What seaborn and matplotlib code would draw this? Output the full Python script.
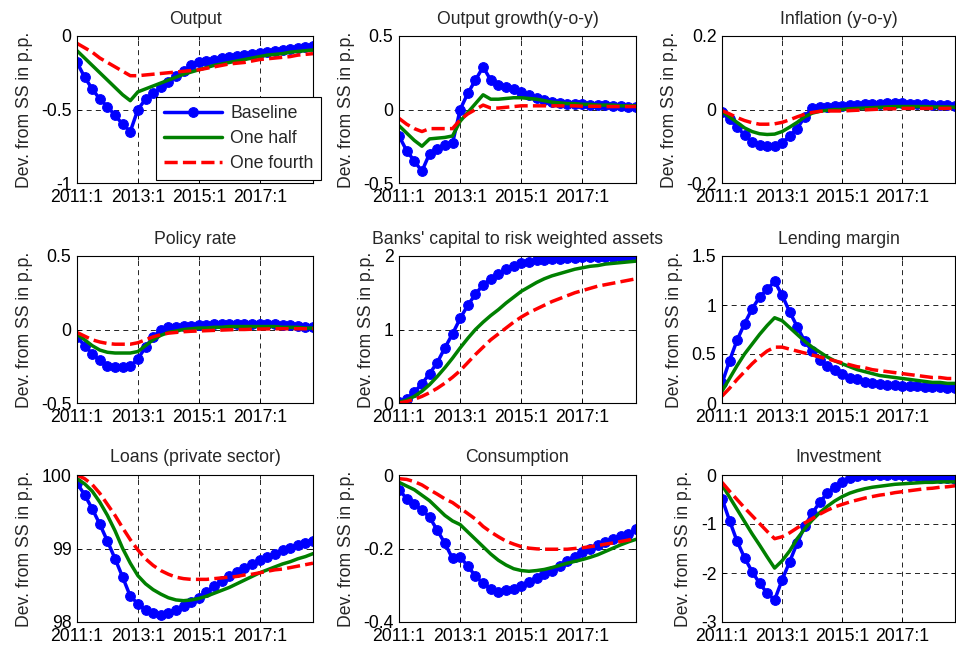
import numpy as np
import pandas as pd
import matplotlib
matplotlib.use("Agg")
import matplotlib.pyplot as plt
import seaborn as sns

quarters = list(range(32))
xtick_pos = [0, 8, 16, 24]
xtick_labels = ["2011:1", "2013:1", "2015:1", "2017:1"]
series_names = ["Baseline", "One half", "One fourth"]

titles = ["Output", "Output growth(y-o-y)", "Inflation (y-o-y)",
          "Policy rate", "Banks' capital to risk weighted assets", "Lending margin",
          "Loans (private sector)", "Consumption", "Investment"]

output_base = [-0.18, -0.28, -0.36, -0.43, -0.48, -0.54, -0.60, -0.65, -0.50, -0.43, -0.39, -0.35, -0.31, -0.27, -0.24, -0.20,
               -0.18, -0.17, -0.16, -0.15, -0.14, -0.135, -0.13, -0.12, -0.115, -0.11, -0.10, -0.095, -0.09, -0.08, -0.075, -0.07]
output_half = [-0.10, -0.15, -0.20, -0.25, -0.30, -0.35, -0.40, -0.44, -0.38, -0.36, -0.34, -0.32, -0.30, -0.28, -0.26, -0.245,
               -0.23, -0.215, -0.20, -0.19, -0.18, -0.17, -0.16, -0.15, -0.14, -0.13, -0.125, -0.12, -0.11, -0.105, -0.10, -0.095]
output_fourth = [-0.05, -0.08, -0.11, -0.15, -0.18, -0.21, -0.24, -0.27, -0.27, -0.265, -0.26, -0.255, -0.25, -0.245, -0.24, -0.235,
                 -0.23, -0.22, -0.21, -0.20, -0.19, -0.185, -0.18, -0.17, -0.16, -0.155, -0.15, -0.145, -0.14, -0.13, -0.125, -0.12]

growth_base = [-0.18, -0.28, -0.35, -0.42, -0.30, -0.27, -0.24, -0.23, 0.0, 0.11, 0.20, 0.29, 0.20, 0.17, 0.155, 0.14,
               0.12, 0.10, 0.08, 0.065, 0.05, 0.045, 0.04, 0.035, 0.035, 0.03, 0.03, 0.03, 0.025, 0.025, 0.02, 0.02]
growth_half = [-0.11, -0.16, -0.21, -0.25, -0.20, -0.195, -0.19, -0.18, -0.08, -0.02, 0.04, 0.10, 0.07, 0.07, 0.075, 0.08,
               0.08, 0.075, 0.07, 0.06, 0.05, 0.045, 0.04, 0.04, 0.035, 0.035, 0.03, 0.03, 0.03, 0.025, 0.025, 0.025]
growth_fourth = [-0.06, -0.10, -0.13, -0.15, -0.13, -0.13, -0.13, -0.13, -0.07, -0.03, 0.0, 0.03, 0.01, 0.01, 0.015, 0.02,
                 0.025, 0.025, 0.025, 0.025, 0.025, 0.025, 0.025, 0.025, 0.022, 0.022, 0.022, 0.02, 0.02, 0.02, 0.02, 0.02]

infl_base = [-0.008, -0.027, -0.047, -0.07, -0.088, -0.097, -0.10, -0.10, -0.09, -0.073, -0.052, -0.02, 0.003, 0.007, 0.008, 0.01,
             0.01, 0.012, 0.013, 0.014, 0.015, 0.016, 0.017, 0.017, 0.017, 0.016, 0.015, 0.014, 0.013, 0.012, 0.011, 0.01]
infl_half = [-0.005, -0.02, -0.035, -0.05, -0.06, -0.066, -0.068, -0.067, -0.06, -0.048, -0.035, -0.02, -0.01, -0.005, -0.002, 0.0,
             0.0, 0.002, 0.003, 0.004, 0.005, 0.006, 0.007, 0.008, 0.008, 0.008, 0.008, 0.008, 0.007, 0.007, 0.007, 0.006]
infl_fourth = [-0.003, -0.012, -0.022, -0.03, -0.036, -0.04, -0.04, -0.039, -0.035, -0.028, -0.02, -0.013, -0.008, -0.005, -0.004, -0.004,
               -0.004, -0.003, -0.002, -0.001, 0.0, 0.001, 0.002, 0.002, 0.003, 0.003, 0.003, 0.003, 0.003, 0.003, 0.003, 0.003]

policy_base = [-0.05, -0.11, -0.165, -0.21, -0.245, -0.255, -0.255, -0.25, -0.20, -0.12, -0.05, -0.005, 0.015, 0.02, 0.025, 0.025,
               0.03, 0.03, 0.035, 0.035, 0.04, 0.04, 0.04, 0.04, 0.04, 0.035, 0.035, 0.03, 0.03, 0.025, 0.02, 0.02]
policy_half = [-0.03, -0.07, -0.11, -0.14, -0.155, -0.16, -0.16, -0.16, -0.15, -0.11, -0.07, -0.04, -0.02, -0.01, 0.0, 0.005,
               0.01, 0.01, 0.015, 0.015, 0.02, 0.02, 0.02, 0.02, 0.02, 0.02, 0.02, 0.015, 0.015, 0.015, 0.01, 0.01]
policy_fourth = [-0.02, -0.045, -0.07, -0.085, -0.095, -0.10, -0.10, -0.10, -0.09, -0.07, -0.05, -0.035, -0.025, -0.02, -0.015, -0.012,
                 -0.01, -0.008, -0.006, -0.004, -0.002, 0.0, 0.0, 0.002, 0.003, 0.004, 0.005, 0.005, 0.005, 0.005, 0.005, 0.005]

capital_base = [0.01, 0.05, 0.15, 0.26, 0.40, 0.55, 0.75, 0.94, 1.15, 1.33, 1.48, 1.61, 1.69, 1.76, 1.82, 1.86,
                1.90, 1.92, 1.94, 1.95, 1.96, 1.965, 1.97, 1.975, 1.98, 1.98, 1.985, 1.985, 1.99, 1.99, 1.99, 1.995]
capital_half = [0.01, 0.04, 0.09, 0.16, 0.25, 0.36, 0.48, 0.61, 0.75, 0.88, 1.0, 1.10, 1.19, 1.27, 1.36, 1.44,
                1.52, 1.58, 1.64, 1.69, 1.73, 1.76, 1.79, 1.82, 1.84, 1.86, 1.87, 1.89, 1.90, 1.91, 1.92, 1.93]
capital_fourth = [0.0, 0.02, 0.05, 0.09, 0.14, 0.20, 0.27, 0.35, 0.44, 0.55, 0.66, 0.76, 0.86, 0.94, 1.02, 1.10,
                  1.17, 1.23, 1.28, 1.33, 1.38, 1.42, 1.46, 1.50, 1.53, 1.56, 1.59, 1.61, 1.63, 1.65, 1.67, 1.69]

margin_base = [0.20, 0.43, 0.64, 0.81, 0.96, 1.08, 1.16, 1.24, 1.10, 0.93, 0.78, 0.63, 0.53, 0.44, 0.38, 0.34,
               0.30, 0.26, 0.24, 0.21, 0.20, 0.19, 0.18, 0.18, 0.17, 0.17, 0.17, 0.16, 0.16, 0.16, 0.15, 0.15]
margin_half = [0.12, 0.25, 0.38, 0.50, 0.60, 0.70, 0.79, 0.87, 0.84, 0.77, 0.70, 0.63, 0.57, 0.52, 0.47, 0.43,
               0.40, 0.37, 0.34, 0.32, 0.30, 0.28, 0.27, 0.26, 0.25, 0.24, 0.23, 0.22, 0.21, 0.21, 0.20, 0.20]
margin_fourth = [0.07, 0.15, 0.24, 0.32, 0.40, 0.47, 0.53, 0.57, 0.57, 0.55, 0.53, 0.51, 0.49, 0.47, 0.45, 0.43,
                 0.41, 0.39, 0.37, 0.36, 0.34, 0.33, 0.32, 0.31, 0.30, 0.29, 0.28, 0.27, 0.26, 0.26, 0.25, 0.25]

loans_base = [99.89, 99.73, 99.54, 99.33, 99.10, 98.86, 98.61, 98.35, 98.25, 98.16, 98.12, 98.10, 98.12, 98.16, 98.22, 98.27,
              98.33, 98.41, 98.49, 98.56, 98.63, 98.68, 98.74, 98.79, 98.84, 98.89, 98.93, 98.98, 99.01, 99.05, 99.07, 99.10]
loans_half = [99.95, 99.88, 99.78, 99.63, 99.45, 99.24, 99.00, 98.80, 98.63, 98.52, 98.44, 98.38, 98.33, 98.30, 98.29, 98.30,
              98.32, 98.35, 98.39, 98.43, 98.47, 98.52, 98.57, 98.62, 98.67, 98.71, 98.75, 98.79, 98.82, 98.86, 98.89, 98.93]
loans_fourth = [100.0, 99.95, 99.87, 99.75, 99.60, 99.45, 99.28, 99.12, 98.98, 98.86, 98.77, 98.70, 98.65, 98.61, 98.59, 98.58,
                98.58, 98.58, 98.59, 98.60, 98.61, 98.62, 98.64, 98.65, 98.67, 98.69, 98.71, 98.72, 98.74, 98.76, 98.78, 98.80]

cons_base = [-0.04, -0.064, -0.08, -0.095, -0.115, -0.15, -0.186, -0.227, -0.223, -0.248, -0.275, -0.295, -0.31, -0.318, -0.314, -0.31,
             -0.303, -0.29, -0.28, -0.27, -0.26, -0.247, -0.235, -0.223, -0.21, -0.20, -0.19, -0.182, -0.175, -0.167, -0.16, -0.148]
cons_half = [-0.02, -0.03, -0.04, -0.055, -0.07, -0.09, -0.11, -0.125, -0.135, -0.155, -0.175, -0.195, -0.215, -0.232, -0.245, -0.255,
             -0.26, -0.262, -0.26, -0.257, -0.252, -0.246, -0.24, -0.235, -0.23, -0.224, -0.217, -0.208, -0.199, -0.19, -0.182, -0.175]
cons_fourth = [-0.01, -0.012, -0.018, -0.027, -0.04, -0.052, -0.065, -0.075, -0.09, -0.105, -0.12, -0.14, -0.155, -0.168, -0.18, -0.188,
               -0.195, -0.199, -0.201, -0.202, -0.202, -0.202, -0.202, -0.20, -0.198, -0.195, -0.192, -0.188, -0.185, -0.181, -0.177, -0.172]

inv_base = [-0.48, -0.93, -1.35, -1.69, -1.97, -2.21, -2.41, -2.55, -2.14, -1.77, -1.39, -1.05, -0.78, -0.56, -0.37, -0.24,
            -0.14, -0.07, -0.02, 0.0, 0.01, 0.01, 0.0, 0.0, -0.01, -0.02, -0.03, -0.04, -0.05, -0.06, -0.07, -0.08]
inv_half = [-0.20, -0.45, -0.70, -0.95, -1.20, -1.43, -1.67, -1.90, -1.75, -1.55, -1.30, -1.10, -0.92, -0.77, -0.64, -0.53,
            -0.44, -0.37, -0.32, -0.28, -0.25, -0.23, -0.21, -0.19, -0.18, -0.17, -0.16, -0.15, -0.15, -0.14, -0.14, -0.14]
inv_fourth = [-0.15, -0.33, -0.50, -0.67, -0.83, -0.99, -1.15, -1.30, -1.26, -1.18, -1.08, -0.98, -0.89, -0.80, -0.72, -0.65,
              -0.60, -0.55, -0.51, -0.47, -0.44, -0.41, -0.39, -0.36, -0.34, -0.32, -0.30, -0.28, -0.27, -0.25, -0.24, -0.22]

panel_data = [
    (output_base, output_half, output_fourth),
    (growth_base, growth_half, growth_fourth),
    (infl_base, infl_half, infl_fourth),
    (policy_base, policy_half, policy_fourth),
    (capital_base, capital_half, capital_fourth),
    (margin_base, margin_half, margin_fourth),
    (loans_base, loans_half, loans_fourth),
    (cons_base, cons_half, cons_fourth),
    (inv_base, inv_half, inv_fourth),
]

ylims = [(-1, 0), (-0.5, 0.5), (-0.2, 0.2), (-0.5, 0.5), (0, 2), (0, 1.5), (98, 100), (-0.4, 0), (-3, 0)]
yticks = [[-1, -0.5, 0], [-0.5, 0, 0.5], [-0.2, 0, 0.2], [-0.5, 0, 0.5], [0, 1, 2],
          [0, 0.5, 1, 1.5], [98, 99, 100], [-0.4, -0.2, 0], [-3, -2, -1, 0]]

sns.set_theme(style="white")
plt.rcParams["font.family"] = ["Liberation Sans", "DejaVu Sans"]
plt.rcParams["axes.unicode_minus"] = False

W, H = 956, 651
fig = plt.figure(figsize=(W / 100, H / 100), dpi=100)
fig.patch.set_facecolor("white")

col_left = [77, 399, 722]
col_w = [236, 237, 233]
row_top = [36, 256, 475]
ax_h = 147

lw = 2.5
styles = [
    dict(color=(0, 0, 1), linestyle="-", marker="o", markersize=7),
    dict(color=(0, 0.5, 0), linestyle="-", marker=None),
    dict(color=(1, 0, 0), linestyle=(0, (3.8, 1.5)), marker=None),
]

fs = 12.7
legend_handles = None
for i in range(9):
    r, c = divmod(i, 3)
    ax = fig.add_axes([col_left[c] / W, 1 - (row_top[r] + ax_h) / H, col_w[c] / W, ax_h / H])
    data = panel_data[i]
    for name, vals, st in zip(series_names, data, styles):
        df = pd.DataFrame({"q": quarters, "v": vals})
        sns.lineplot(data=df, x="q", y="v", ax=ax, label=name,
                     color=st["color"], linestyle=st["linestyle"], linewidth=lw,
                     marker=st["marker"], markersize=st.get("markersize", 0),
                     markeredgecolor=st["color"], markerfacecolor=st["color"], legend=False)
    ax.set_xlim(0, 31)
    ax.set_ylim(*ylims[i])
    ax.set_xticks(xtick_pos)
    ax.set_xticklabels(xtick_labels, fontsize=fs)
    ax.set_yticks(yticks[i])
    ax.set_yticklabels(["%g" % t for t in yticks[i]], fontsize=fs)
    ax.set_xlabel("")
    ax.set_ylabel("Dev. from SS in p.p.", fontsize=fs, labelpad=6)
    ax.set_title(titles[i], fontsize=fs, pad=9)
    ax.grid(True, color="black", linestyle=(0, (6, 5)), linewidth=0.6)
    for s in ax.spines.values():
        s.set_color("black")
        s.set_linewidth(0.8)
    ax.tick_params(direction="in", length=3, width=0.6, colors="black",
                   top=True, right=True, bottom=True, left=True)
    ax.tick_params(axis="x", pad=4.5)
    ax.tick_params(axis="y", pad=4)
    if i == 0:
        legend_handles = ax.get_lines()[:3]

leg = fig.legend(legend_handles, series_names, loc="upper left",
                 bbox_to_anchor=(156 / W, 1 - 97 / H), borderaxespad=0, fontsize=fs,
                 frameon=True, fancybox=False, edgecolor="black", framealpha=1,
                 handlelength=3.3, borderpad=0.45, labelspacing=0.45, handletextpad=0.45,
                 numpoints=1)
leg.get_frame().set_linewidth(0.8)

fig.savefig("out.png", dpi=100, facecolor="white")
